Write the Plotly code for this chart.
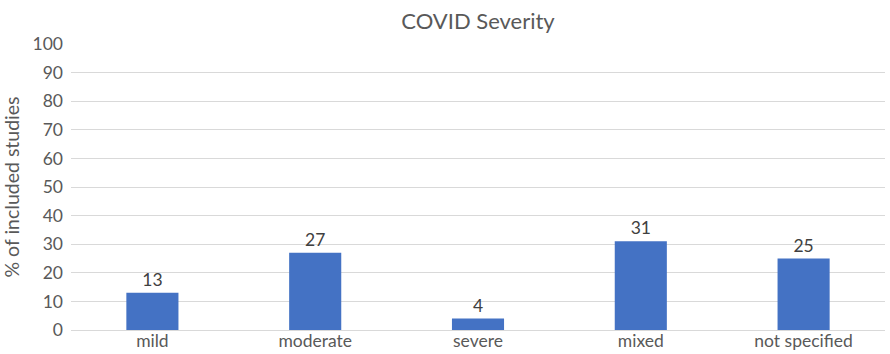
import plotly.graph_objects as go

categories = ["mild", "moderate", "severe", "mixed", "not specified"]
percent_studies = [13, 27, 4, 31, 25]
y_ticks = [0, 10, 20, 30, 40, 50, 60, 70, 80, 90, 100]

text_color = "#595959"
font_family = "Lato, Calibri, Carlito, sans-serif"

fig = go.Figure(
    go.Bar(
        x=categories,
        y=percent_studies,
        width=0.32,
        marker=dict(color="#4472C4", line=dict(width=0)),
        text=[str(v) for v in percent_studies],
        textposition="outside",
        cliponaxis=False,
        textfont=dict(size=17.5, color="#404040", family=font_family),
    )
)

fig.update_layout(
    width=890,
    height=354,
    margin=dict(l=71, r=5, t=44, b=24),
    paper_bgcolor="white",
    plot_bgcolor="white",
    font=dict(family=font_family, color=text_color, size=17.5),
    title=dict(
        text="COVID Severity",
        x=0.5,
        xref="paper",
        y=1 - 21 / 354,
        yanchor="middle",
        font=dict(size=22, color=text_color, family=font_family),
    ),
    showlegend=False,
)

fig.update_xaxes(
    automargin=False,
    showgrid=False,
    showline=True,
    linecolor="#d9d9d9",
    linewidth=1,
    ticks="",
    ticklabelstandoff=-5,
    tickfont=dict(size=17.5, color=text_color),
)
fig.update_yaxes(
    automargin=False,
    range=[0, 100],
    tickvals=y_ticks,
    showgrid=True,
    gridcolor="#d9d9d9",
    gridwidth=1,
    zeroline=False,
    showline=False,
    ticks="",
    ticklabelstandoff=7,
    tickfont=dict(size=17.5, color=text_color),
    title=dict(text="% of included studies", font=dict(size=19.5, color=text_color), standoff=10),
)

fig.write_html("out.html")
